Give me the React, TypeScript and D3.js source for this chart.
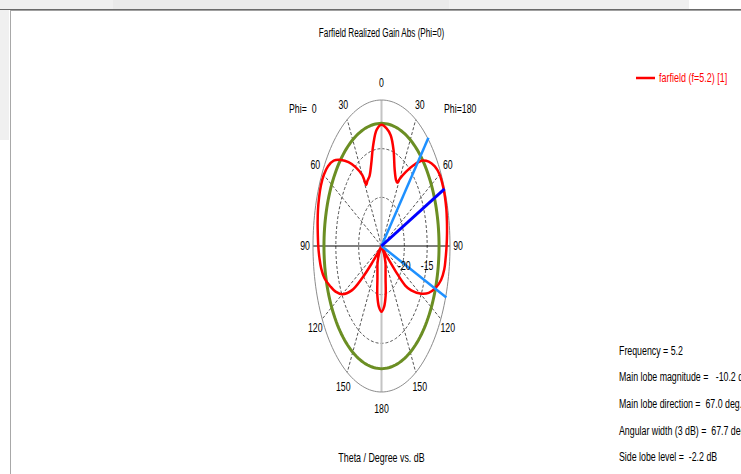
import React from "react";
import * as d3 from "d3";

// ---- data ----
const thetaPhi0 = [0, 5, 10, 15, 20, 25, 28, 30, 35, 40, 45, 50, 55, 60, 65, 70, 75, 80, 85, 90, 95, 100, 105, 110, 115, 120, 125, 128, 130, 132, 135, 140, 145, 150, 155, 160, 165, 170, 175, 180];
const gainPhi0 = [-12.55, -13, -14.5, -16.3, -17.35, -17.65, -17.9, -16.6, -15.1, -13.75, -12.5, -11.35, -10.7, -10.4, -10.35, -10.45, -10.6, -10.8, -11, -11.15, -11.35, -11.6, -12.1, -13, -13.9, -15.1, -17.05, -19.75, -22.3, -24.4, -27, -27, -24.1, -23.5, -22.9, -22.4, -21.55, -19.8, -18.7, -18.25];
const thetaPhi180 = [0, 5, 10, 15, 20, 25, 28, 30, 35, 40, 45, 50, 55, 60, 65, 67, 70, 75, 80, 85, 90, 95, 100, 105, 110, 115, 120, 125, 128, 130, 132, 135, 140, 145, 150, 155, 160, 165, 170, 175, 180];
const gainPhi180 = [-12.55, -12.85, -13.45, -14.8, -16.6, -17.5, -17.65, -17.05, -15.7, -14.2, -12.6, -11.5, -10.75, -10.3, -10.21, -10.2, -10.22, -10.3, -10.45, -10.6, -10.75, -10.9, -11.05, -11.5, -12.4, -13.6, -15.25, -17.05, -18.4, -20.95, -23.2, -24.4, -27, -24.1, -23.5, -22.9, -22.4, -21.55, -19.8, -18.7, -18.25];

const thetaTicks = [0, 30, 60, 90, 120, 150, 180];
const gridAngles = [30, 60, 120, 150];
const ringLevels = [-20, -15];
const dbDomain = [-25, -10];

const mainLobeMagnitude = -10.2;
const mainLobeDirection = 67.0;
const beamEdges = [42.7, 110.4];
const sideLobeLevel = -2.2;

const titleText = "Farfield Realized Gain Abs (Phi=0)";
const axisText = "Theta / Degree vs. dB";
const legendText = "farfield (f=5.2) [1]";
const phiLeft = "Phi=  0";
const phiRight = "Phi=180";
const infoLines = [
  "Frequency = 5.2",
  "Main lobe magnitude =   -10.2 dB",
  "Main lobe direction =  67.0 deg.",
  "Angular width (3 dB) =  67.7 deg.",
  "Side lobe level =  -2.2 dB",
];

// ---- layout ----
const W = 741, H = 474;
const cx = 381.5, cy = 246, rx = 68.5, ry = 146;
const FONT = "'Liberation Sans', Arial, sans-serif";

const rScale = d3.scaleLinear().domain(dbDomain).range([0, 1]).clamp(true);
const rad = (deg: number) => (deg * Math.PI) / 180;
// side: -1 => Phi=0 (left), +1 => Phi=180 (right)
const pt = (theta: number, r: number, side: number): [number, number] => [
  cx + side * Math.sin(rad(theta)) * r * rx,
  cy - Math.cos(rad(theta)) * r * ry,
];

function T({ x, y, children, anchor = "middle", sx = 0.73, fill = "#000", size = 12 }: any) {
  return (
    <text
      transform={`translate(${x},${y}) scale(${sx},1)`}
      textAnchor={anchor}
      fill={fill}
      fontFamily={FONT}
      fontSize={size}
      style={{ whiteSpace: "pre" }}
    >
      {children}
    </text>
  );
}

export default function App() {
  const ellipse = (r: number) => {
    const pts = d3.range(0, 361, 2).map((a) => pt(a, r, 1));
    return d3.line().curve(d3.curveLinearClosed)(pts as any) as string;
  };

  const leftPts = thetaPhi0.map((t, i) => pt(t, rScale(gainPhi0[i]), -1));
  const rightPts = thetaPhi180
    .map((t, i) => pt(t, rScale(gainPhi180[i]), 1))
    .filter((_, i) => thetaPhi180[i] > 0 && thetaPhi180[i] < 180)
    .reverse();
  const redPath = d3.line().curve(d3.curveCatmullRomClosed.alpha(0.5))([...leftPts, ...rightPts] as any) as string;

  const greenR = rScale(mainLobeMagnitude + sideLobeLevel);
  const mainEnd = pt(mainLobeDirection, 1.0, 1);

  return (
    <svg width={W} height={H} style={{ position: "absolute", left: 0, top: 0, background: "#fff" }}>
      {/* window chrome */}
      <rect x={0} y={0} width={W} height={9} fill="#f0f0f0" />
      <rect x={113} y={0} width={336} height={9} fill="#eaeaea" />
      <rect x={689} y={0} width={52} height={9} fill="#ffffff" />
      <rect x={0} y={0} width={9} height={140} fill="#f0f0f0" />
      <line x1={0} x2={W} y1={9.5} y2={9.5} stroke="#6a6a6a" strokeWidth={1} />
      <line x1={10} x2={W} y1={10.5} y2={10.5} stroke="#a0a0a0" strokeWidth={1} />
      <line x1={10.5} x2={10.5} y1={10} y2={H} stroke="#a8a8a8" strokeWidth={1} />

      <T x={cx} y={37} sx={0.68}>{titleText}</T>

      {/* dashed rings */}
      {ringLevels.map((lv) => (
        <path key={lv} d={ellipse(rScale(lv))} fill="none" stroke="#555" strokeWidth={1} strokeDasharray="3,2" />
      ))}
      {/* dashed radials */}
      {gridAngles.map((a) =>
        [-1, 1].map((s) => {
          const [x2, y2] = pt(a, 1, s);
          return <line key={`${a}_${s}`} x1={cx} y1={cy} x2={x2} y2={y2} stroke="#555" strokeWidth={1} strokeDasharray="3,2" />;
        })
      )}
      {/* axes */}
      <line x1={cx} x2={cx} y1={cy - ry} y2={cy + ry} stroke="#c4c4c4" strokeWidth={2} />
      <line x1={cx - rx} x2={cx + rx} y1={cy} y2={cy} stroke="#000" strokeWidth={1} />
      <path d={ellipse(1)} fill="none" stroke="#8c8c8c" strokeWidth={1} />

      {/* side lobe level circle */}
      <path d={ellipse(greenR)} fill="none" stroke="#6b8e23" strokeWidth={3} />

      {/* pattern */}
      <path d={redPath} fill="none" stroke="#ff0000" strokeWidth={2.5} strokeLinejoin="round" />

      {/* main lobe & 3 dB lines */}
      {beamEdges.map((a) => {
        const [x2, y2] = pt(a, 1.01, 1);
        return <line key={a} x1={cx} y1={cy} x2={x2} y2={y2} stroke="#1e90ff" strokeWidth={2.5} />;
      })}
      <line x1={cx} y1={cy} x2={mainEnd[0]} y2={mainEnd[1]} stroke="#0000ff" strokeWidth={3} />

      {/* theta tick labels */}
      {thetaTicks.map((t) =>
        (t === 0 || t === 180 ? [1] : [-1, 1]).map((s) => {
          const x = cx + s * Math.sin(rad(t)) * (rx + 8);
          const y = cy - Math.cos(rad(t)) * (ry + 17) + 4.3;
          return <T key={`${t}_${s}`} x={x} y={y}>{String(t)}</T>;
        })
      )}
      {/* ring labels */}
      {ringLevels.map((lv) => (
        <T key={lv} x={cx + rScale(lv) * rx} y={cy + 24}>{String(lv)}</T>
      ))}

      <T x={289} y={113} anchor="start">{phiLeft}</T>
      <T x={444} y={113} anchor="start">{phiRight}</T>

      <T x={cx} y={462} sx={0.74}>{axisText}</T>

      {/* legend */}
      <line x1={636} x2={655} y1={78} y2={78} stroke="#ff0000" strokeWidth={2.5} />
      <T x={659} y={82} anchor="start" fill="#ff0000" sx={0.75}>{legendText}</T>

      {/* info */}
      {infoLines.map((s, i) => (
        <T key={i} x={619} y={354.5 + i * 26.7} anchor="start" sx={0.735}>{s}</T>
      ))}
    </svg>
  );
}
